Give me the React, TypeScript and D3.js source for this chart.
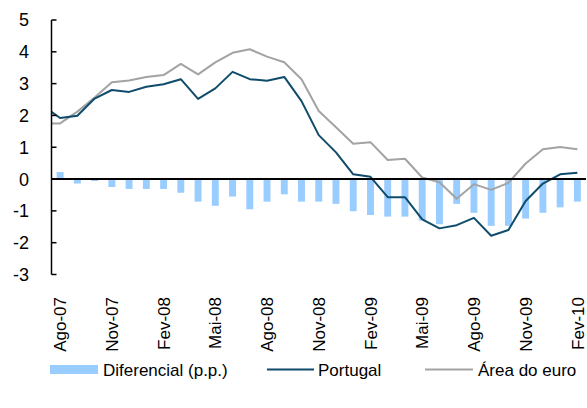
import React from "react";
import * as d3 from "d3";

// Months from Jul-07 (first value only feeds the clipped line start) to Fev-10
const months = [
  "Jul-07", "Ago-07", "Set-07", "Out-07", "Nov-07", "Dez-07", "Jan-08", "Fev-08", "Mar-08", "Abr-08",
  "Mai-08", "Jun-08", "Jul-08", "Ago-08", "Set-08", "Out-08", "Nov-08", "Dez-08", "Jan-09", "Fev-09",
  "Mar-09", "Abr-09", "Mai-09", "Jun-09", "Jul-09", "Ago-09", "Set-09", "Out-09", "Nov-09", "Dez-09",
  "Jan-10", "Fev-10",
];

const portugal = [
  2.3, 1.92, 1.99, 2.53, 2.8, 2.74, 2.9, 2.98, 3.14, 2.52, 2.85, 3.37, 3.14, 3.09, 3.21, 2.45,
  1.38, 0.84, 0.15, 0.07, -0.57, -0.57, -1.27, -1.55, -1.45, -1.22, -1.78, -1.6, -0.69, -0.14, 0.15, 0.2,
];

const euro = [
  1.75, 1.75, 2.12, 2.56, 3.04, 3.1, 3.21, 3.27, 3.62, 3.29, 3.67, 3.97, 4.08, 3.85, 3.67, 3.14,
  2.14, 1.63, 1.11, 1.16, 0.6, 0.64, 0.05, -0.1, -0.62, -0.16, -0.34, -0.12, 0.49, 0.94, 1.01, 0.94,
];

const diferencial: (number | null)[] = [
  null, 0.22, -0.14, -0.06, -0.25, -0.31, -0.31, -0.31, -0.43, -0.71, -0.84, -0.55, -0.95, -0.71, -0.48, -0.71,
  -0.71, -0.78, -1.01, -1.13, -1.18, -1.18, -1.3, -1.42, -0.78, -1.06, -1.47, -1.47, -1.24, -1.06, -0.89, -0.71,
];

const tickLabels = ["Ago-07", "Nov-07", "Fev-08", "Mai-08", "Ago-08", "Nov-08", "Fev-09", "Mai-09", "Ago-09", "Nov-09", "Fev-10"];
const yTicks = [-3, -2, -1, 0, 1, 2, 3, 4, 5];

const legendItems = ["Diferencial (p.p.)", "Portugal", "Área do euro"];

const W = 587;
const H = 408;
const FONT = "'Liberation Sans', Arial, sans-serif";
const BAR = "#99CCFF";
const PT = "#0F4C6B";
const EU = "#A3A3A3";

export default function App() {
  const x = d3.scaleLinear().domain([0.5, months.length - 0.5]).range([51.5, 586]);
  const y = d3.scaleLinear().domain([-3, 5]).range([274.5, 20]);
  const band = x(1) - x(0);
  const barW = band * 0.4;

  const line = (vals: number[]) =>
    d3
      .line<number>()
      .x((_, i) => x(i))
      .y((d) => y(d))(vals) || "";

  return (
    <svg width={W} height={H} style={{ position: "absolute", left: 0, top: 0, background: "#fff" }} fontFamily={FONT}>
      <defs>
        <clipPath id="plot">
          <rect x={x(0.5)} y={0} width={x(months.length - 0.5) - x(0.5)} height={300} />
        </clipPath>
      </defs>
      {/* bars */}
      {diferencial.map((d, i) =>
        d === null ? null : (
          <rect
            key={i}
            x={x(i) - barW / 2}
            y={Math.min(y(d), y(0))}
            width={barW}
            height={Math.abs(y(d) - y(0))}
            fill={BAR}
          />
        )
      )}
      {/* lines */}
      <g clipPath="url(#plot)">
        <path d={line(euro)} fill="none" stroke={EU} strokeWidth={2} strokeLinejoin="round" />
        <path d={line(portugal)} fill="none" stroke={PT} strokeWidth={2} strokeLinejoin="round" />
      </g>
      {/* zero line */}
      <line x1={x(0.5)} x2={x(months.length - 0.5)} y1={y(0)} y2={y(0)} stroke="#000" strokeWidth={2} />
      {/* y axis */}
      <line x1={x(0.5)} x2={x(0.5)} y1={y(5)} y2={y(-3)} stroke="#000" strokeWidth={1.5} />
      {yTicks.map((t) => (
        <g key={t}>
          <line x1={x(0.5)} x2={x(0.5) + 5} y1={y(t)} y2={y(t)} stroke="#000" strokeWidth={1.5} />
          <text x={29} y={y(t)} dy="0.36em" textAnchor="end" fontSize={18} fill="#000">
            {t}
          </text>
        </g>
      ))}
      {/* x labels */}
      {tickLabels.map((lab) => {
        const i = months.indexOf(lab);
        const cx = x(i);
        return (
          <text
            key={lab}
            transform={`translate(${cx},297) rotate(-90)`}
            dy="0.36em"
            textAnchor="end"
            fontSize={17}
            fill="#000"
          >
            {lab}
          </text>
        );
      })}
      {/* legend */}
      <g fontSize={17}>
        <rect x={50} y={365} width={48} height={9} fill={BAR} />
        <text x={103} y={376}>{legendItems[0]}</text>
        <line x1={267} x2={314} y1={369.5} y2={369.5} stroke={PT} strokeWidth={2} />
        <text x={318} y={376}>{legendItems[1]}</text>
        <line x1={425} x2={473} y1={369.5} y2={369.5} stroke={EU} strokeWidth={2} />
        <text x={478} y={376}>{legendItems[2]}</text>
      </g>
    </svg>
  );
}
